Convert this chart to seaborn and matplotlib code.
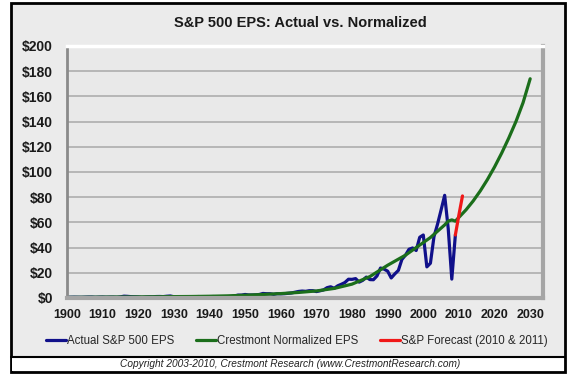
import numpy as np
import pandas as pd
import matplotlib
matplotlib.use("Agg")
import matplotlib.pyplot as plt
from matplotlib.patches import Rectangle
from matplotlib.lines import Line2D
from matplotlib.ticker import MultipleLocator, FuncFormatter
import seaborn as sns

# ---- data ----------------------------------------------------------------------
actual_years = list(range(1900, 2010))
actual_eps = [
    0.5, 0.6, 0.65, 0.6, 0.55, 0.65, 0.75, 0.75, 0.55, 0.7,      # 1900s
    0.75, 0.6, 0.7, 0.7, 0.55, 0.9, 1.45, 1.3, 1.05, 0.95,       # 1910s
    0.85, 0.5, 0.75, 0.95, 0.9, 1.15, 1.2, 1.1, 1.4, 1.6,        # 1920s
    1.0, 0.6, 0.4, 0.45, 0.6, 0.75, 1.05, 1.15, 0.65, 0.9,       # 1930s
    1.05, 1.15, 1.05, 0.95, 0.95, 0.95, 1.05, 1.6, 2.3, 2.3,     # 1940s
    2.8, 2.4, 2.4, 2.5, 2.8, 3.6, 3.4, 3.4, 2.9, 3.4,            # 1950s
    3.3, 3.4, 3.7, 4.0, 4.6, 5.2, 5.5, 5.3, 5.8, 5.8,            # 1960s
    5.1, 5.7, 6.4, 8.2, 8.9, 7.7, 9.7, 10.9, 12.3, 14.9,         # 1970s
    14.8, 15.4, 12.6, 14.0, 16.6, 14.6, 14.5, 17.5, 23.8, 22.9,  # 1980s
    21.3, 15.9, 19.1, 21.9, 30.6, 34.0, 38.7, 39.7, 37.7, 48.2,  # 1990s
    50.0, 24.7, 27.6, 48.7, 58.6, 69.9, 81.5, 55.0, 15.0, 50.0,  # 2000s
]

normalized_years = [1900, 1905, 1910, 1915, 1920, 1925, 1930, 1935, 1940, 1945,
                    1950, 1955, 1960, 1965, 1970, 1975, 1980, 1985, 1990, 1995,
                    2000, 2002, 2004, 2006, 2007, 2008, 2009, 2010, 2011, 2012,
                    2014, 2016, 2018, 2020, 2022, 2024, 2026, 2028, 2030]
normalized_eps = [0.5, 0.6, 0.7, 0.8, 0.9, 1.0, 1.1, 1.2, 1.4, 1.7,
                  2.2, 2.8, 3.5, 4.4, 5.6, 7.6, 11, 17, 26, 34,
                  44, 48, 53, 58, 61, 62, 61, 64, 67, 70,
                  77, 85, 94, 104, 115, 127, 140, 155, 174]

forecast_years = [2009, 2010, 2011]
forecast_eps = [50, 66, 81]

series_names = ["Actual S&P 500 EPS", "Crestmont Normalized EPS",
                "S&P Forecast (2010 & 2011)"]
series_colors = ["#10108a", "#1b6e1b", "#f01818"]

actual = pd.DataFrame({"Year": actual_years, "EPS": actual_eps})
normalized = pd.DataFrame({"Year": normalized_years, "EPS": normalized_eps})
forecast = pd.DataFrame({"Year": forecast_years, "EPS": forecast_eps})

# ---- style -----------------------------------------------------------------------
sns.set_theme(style="white")
plt.rcParams["font.family"] = ["Liberation Sans", "DejaVu Sans"]

W, H = 576, 377
fig = plt.figure(figsize=(W / 100, H / 100), dpi=100, facecolor="white")


def fx(px):
    return px / W


def fy(py):
    return 1 - py / H


# outer frame + copyright strip
fig.add_artist(Rectangle((fx(11), fy(372)), fx(565) - fx(11), fy(3) - fy(372),
                         transform=fig.transFigure, facecolor="#ebebeb",
                         edgecolor="black", lw=2, zorder=-2))
fig.add_artist(Rectangle((fx(12), fy(371)), fx(564) - fx(12), fy(357) - fy(371),
                         transform=fig.transFigure, facecolor="white",
                         edgecolor="none", zorder=-1))
fig.add_artist(Line2D([fx(11), fx(565)], [fy(357), fy(357)],
                      transform=fig.transFigure, color="black", lw=1.5, zorder=-1))

ax = fig.add_axes([fx(67), fy(298), fx(543) - fx(67), fy(46) - fy(298)])
ax.set_facecolor("#e9e9e9")

for df, name, color in zip([actual, normalized, forecast], series_names, series_colors):
    sns.lineplot(data=df, x="Year", y="EPS", ax=ax, color=color, lw=2.3,
                 label=name, legend=False)

ax.set_xlim(1900, 2033.6)
ax.set_ylim(0, 200)
ax.set_xlabel("")
ax.set_ylabel("")

ax.yaxis.set_major_locator(MultipleLocator(20))
ax.yaxis.set_major_formatter(FuncFormatter(lambda v, p: f"${v:.0f}"))
ax.xaxis.set_major_locator(MultipleLocator(10))
ax.xaxis.set_minor_locator(MultipleLocator(1))
ax.grid(axis="y", color="#a8a8a8", lw=1.1)
ax.set_axisbelow(True)

ax.tick_params(axis="y", length=0, pad=10, labelsize=10)
ax.tick_params(axis="x", which="both", length=3, width=0.7, color="#9a9a9a",
               direction="out", pad=5, labelsize=9)
for lab in ax.get_xticklabels() + ax.get_yticklabels():
    lab.set_fontweight("bold")
    lab.set_color("#1a1a1a")

ax.spines["left"].set_color("#8a8a8a")
ax.spines["left"].set_linewidth(2)
ax.spines["top"].set_color("white")
ax.spines["top"].set_linewidth(2.5)
ax.spines["right"].set_color("#a5a5a5")
ax.spines["right"].set_linewidth(3)
ax.spines["bottom"].set_color("#a5a5a5")
ax.spines["bottom"].set_linewidth(3)

fig.text(fx(300), fy(23), "S&P 500 EPS: Actual vs. Normalized", ha="center",
         va="center", fontsize=10.5, fontweight="bold", color="#1a1a1a")

handles, labels = ax.get_legend_handles_labels()
fig.legend(handles, labels, loc="center", bbox_to_anchor=(fx(297), fy(341)),
           ncol=3, frameon=False, fontsize=8.3, handlelength=1.7,
           handletextpad=0.1, columnspacing=1.9, borderaxespad=0)

fig.text(fx(290), fy(364),
         "Copyright 2003-2010, Crestmont Research (www.CrestmontResearch.com)",
         ha="center", va="center", fontsize=7.3, style="italic", color="#222222")

fig.savefig("out.png", dpi=100)
